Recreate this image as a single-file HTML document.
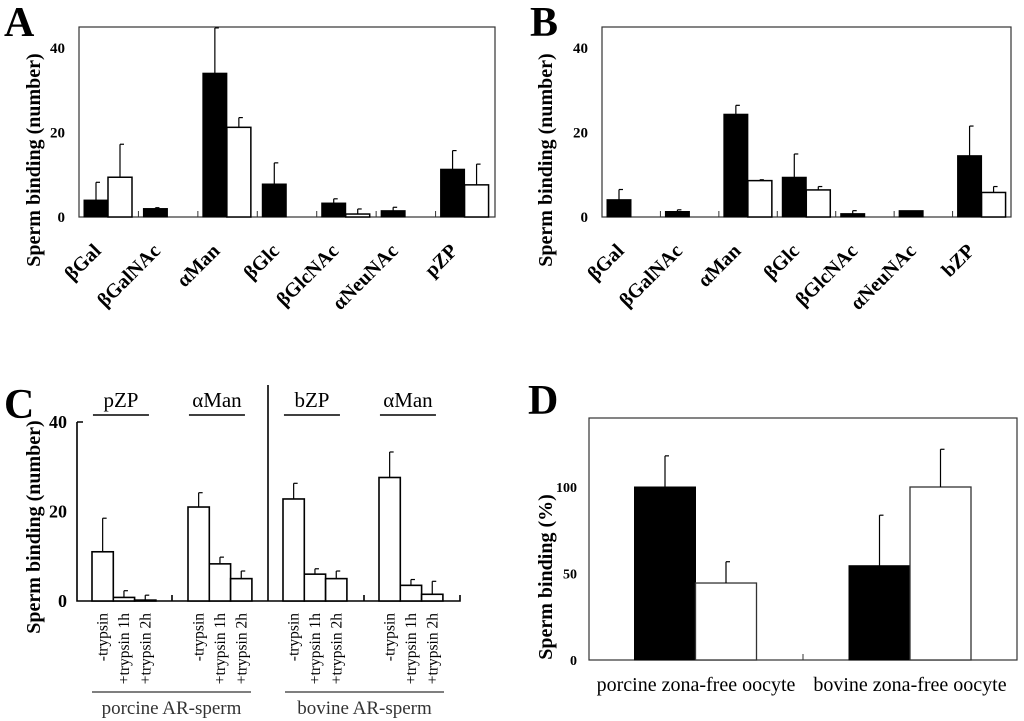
<!DOCTYPE html>
<html><head><meta charset="utf-8"><style>
body{margin:0;background:#fff;}
svg{display:block;font-family:"Liberation Serif",serif;}
</style></head><body>
<svg id="fig" width="1024" height="721" viewBox="0 0 1024 721">
<text x="4" y="36" font-size="42" font-weight="bold">A</text>
<text x="530" y="36" font-size="42" font-weight="bold">B</text>
<text x="4" y="418" font-size="42" font-weight="bold">C</text>
<text x="528" y="414" font-size="42" font-weight="bold">D</text>
<text transform="translate(40,160) rotate(-90)" text-anchor="middle" font-size="20" font-weight="bold">Sperm binding (number)</text>
<text transform="translate(552,160) rotate(-90)" text-anchor="middle" font-size="20" font-weight="bold">Sperm binding (number)</text>
<text transform="translate(40,527) rotate(-90)" text-anchor="middle" font-size="20" font-weight="bold">Sperm binding (number)</text>
<text transform="translate(552,577) rotate(-90)" text-anchor="middle" font-size="20" font-weight="bold">Sperm binding (%)</text>
</svg>
<script>
const aCats=["βGal","βGalNAc","αMan","βGlc","βGlcNAc","αNeuNAc","pZP"];
const aBlack=[4.0,2.0,34.0,7.8,3.3,1.5,11.3];
const aBlackErr=[8.2,2.2,44.7,12.8,4.3,2.3,15.7];
const aWhite=[9.4,0,21.2,0,0.7,0,7.6];
const aWhiteErr=[17.2,0,23.5,0,1.9,0,12.5];
const bCats=["βGal","βGalNAc","αMan","βGlc","βGlcNAc","αNeuNAc","bZP"];
const bBlack=[4.1,1.3,24.3,9.4,0.8,1.5,14.5];
const bBlackErr=[6.5,1.7,26.4,14.9,1.5,1.5,21.5];
const bWhite=[0,0,8.6,6.4,0,0,5.8];
const bWhiteErr=[0,0,8.8,7.2,0,0,7.2];
const abTicks=[0,20,40];
const cHeaders=["pZP","αMan","bZP","αMan"];
const cConds=["-trypsin","+trypsin 1h","+trypsin 2h"];
const cVals=[11,0.8,0.2,21,8.3,5,22.8,6,5,27.6,3.5,1.5];
const cErr=[18.5,2.3,1.3,24.2,9.8,6.7,26.3,7.2,6.7,33.3,4.8,4.4];
const cTicks=[0,20,40];
const cSperm=["porcine AR-sperm","bovine AR-sperm"];
const dCats=["porcine zona-free oocyte","bovine zona-free oocyte"];
const dBlack=[100,54.5];
const dBlackErr=[118,83.7];
const dWhite=[44.5,100];
const dWhiteErr=[56.8,121.8];
const dTicks=[0,50,100];

const svg=document.getElementById('fig');
const NS='http://www.w3.org/2000/svg';
function el(tag,attrs,parent){const e=document.createElementNS(NS,tag);for(const k in attrs)e.setAttribute(k,attrs[k]);(parent||svg).appendChild(e);return e;}

function errBar(x,yTop,yVal,name){
  const g=el('g',{});
  
  
  el('line',{x1:x,x2:x,y1:yVal,y2:yTop,stroke:'#000','stroke-width':1.2},g);
  el('line',{x1:x,x2:x+4,y1:yTop,y2:yTop,stroke:'#000','stroke-width':1.2},g);
}

function panelAB(pre,x0,x1,cats,blk,blkE,wht,whtE){
  const y0=217,top=27,k=4.23;
  const Y=v=>y0-v*k;
  const gw=(x1-x0)/7;
  const frame=el('rect',{x:x0,y:top,width:x1-x0,height:y0-top,fill:'none',stroke:'#333','stroke-width':1.2});
  
  
  abTicks.forEach(t=>{
    const tx=el('text',{x:x0-14,y:Y(t)+5,'text-anchor':'end','font-size':15,'font-weight':'bold'});
    tx.textContent=t;
    
    
  });
  for(let i=1;i<7;i++){const sx=x0+gw*i;el('line',{x1:sx,x2:sx,y1:y0,y2:y0-6,stroke:'#333','stroke-width':1});}
  cats.forEach((c,i)=>{
    const gx=x0+gw*i+5,bw=24;
    const r=el('rect',{x:gx,y:Y(blk[i]),width:bw,height:blk[i]*k,fill:'#000',stroke:'#000'});
    
    
    if(blkE[i]>blk[i])errBar(gx+bw/2,Y(blkE[i]),Y(blk[i]),pre+'-err-black-'+i);
    if(wht[i]>0){
      const w=el('rect',{x:gx+bw,y:Y(wht[i]),width:bw,height:wht[i]*k,fill:'#fff',stroke:'#000','stroke-width':1.5});
      
      
      if(whtE[i]>wht[i])errBar(gx+bw*1.5,Y(whtE[i]),Y(wht[i]),pre+'-err-white-'+i);
    }
    const lx=gx+18;
    const t=el('text',{transform:`translate(${lx},${252}) rotate(-45)`,'text-anchor':'end','font-size':20,'font-weight':'bold'});
    t.textContent=c;
    
    
  });
}
panelAB('panel-a',79,495,aCats,aBlack,aBlackErr,aWhite,aWhiteErr);
panelAB('panel-b',602,1011,bCats,bBlack,bBlackErr,bWhite,bWhiteErr);

// Panel C
(function(){
  const x0=77,x1=460,y0=601,k=4.475;
  const Y=v=>y0-v*k;
  const ax=el('path',{d:`M${x0},${Y(40)}H${x0+6}M${x0},${Y(40)}V${y0}H${x1}V${y0-6}M172,${y0}V${y0-6}M364,${y0}V${y0-6}`,fill:'none',stroke:'#000','stroke-width':1.6});
  
  
  const sep=el('line',{x1:268,x2:268,y1:385,y2:y0,stroke:'#000','stroke-width':1.6});
  
  
  cTicks.forEach(t=>{
    const tx=el('text',{x:x0-10,y:Y(t)+6,'text-anchor':'end','font-size':18,'font-weight':'bold'});
    tx.textContent=t;
    
    
  });
  const gStart=[92,188,283,379],bw=21.3;
  cHeaders.forEach((h,g)=>{
    const cx=gStart[g]+bw*1.5-3;
    const t=el('text',{x:cx,y:407,'text-anchor':'middle','font-size':21});
    t.textContent=h;
    
    
    el('line',{x1:cx-28,x2:cx+28,y1:415,y2:415,stroke:'#000','stroke-width':1.5});
    cConds.forEach((c,j)=>{
      const i=g*3+j,bx=gStart[g]+bw*j;
      const r=el('rect',{x:bx,y:Y(cVals[i]),width:bw,height:cVals[i]*k,fill:'#fff',stroke:'#000','stroke-width':1.6});
      
      
      errBar(bx+bw/2,Y(cErr[i]),Y(cVals[i]),'panel-c-err-'+i);
      const lt=el('text',{transform:`translate(${bx+bw/2+5},613) rotate(-90)`,'text-anchor':'end','font-size':15.5});
      lt.textContent=c;
      
      
    });
  });
  cSperm.forEach((s,i)=>{
    const xa=i?285:92,xb=i?444:251;
    el('line',{x1:xa,x2:xb,y1:692,y2:692,stroke:'#555','stroke-width':1.5});
    const t=el('text',{x:(xa+xb)/2,y:714,'text-anchor':'middle','font-size':19,fill:'#333'});
    t.textContent=s;
    
    
  });
})();

// Panel D
(function(){
  const x0=589,x1=1017,top=418,y0=660,k=1.73;
  const Y=v=>y0-v*k;
  const fr=el('rect',{x:x0,y:top,width:x1-x0,height:y0-top,fill:'none',stroke:'#333','stroke-width':1.2});
  
  
  el('line',{x1:803,x2:803,y1:y0,y2:y0-6,stroke:'#333'});
  dTicks.forEach(t=>{
    const tx=el('text',{x:x0-12,y:Y(t)+5,'text-anchor':'end','font-size':14,'font-weight':'bold'});
    tx.textContent=t;
    
    
  });
  const gs=[634.5,849],bw=61;
  dCats.forEach((c,i)=>{
    const bx=gs[i];
    const r=el('rect',{x:bx,y:Y(dBlack[i]),width:bw,height:dBlack[i]*k,fill:'#000',stroke:'#000'});
    
    
    errBar(bx+bw/2,Y(dBlackErr[i]),Y(dBlack[i]),'panel-d-err-black-'+i);
    const w=el('rect',{x:bx+bw,y:Y(dWhite[i]),width:bw,height:dWhite[i]*k,fill:'#fff',stroke:'#333','stroke-width':1.3});
    
    
    errBar(bx+bw*1.5,Y(dWhiteErr[i]),Y(dWhite[i]),'panel-d-err-white-'+i);
    const t=el('text',{x:i?910:696,y:691,'text-anchor':'middle','font-size':20});
    t.textContent=c;
    
    
  });
})();
</script>
</body></html>
